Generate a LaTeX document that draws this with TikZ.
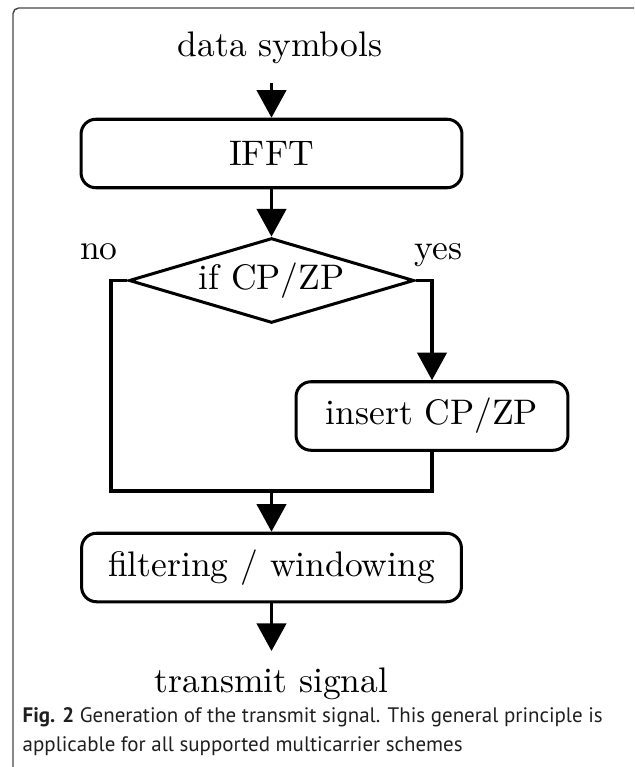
\documentclass[tikz,border=0pt]{standalone}
\usepackage{fontspec}
\newfontfamily\capfont{PT Sans}
\usetikzlibrary{arrows.meta,shapes.geometric}

\begin{document}
\begin{tikzpicture}[
  x=0.2817pt, y=-0.2817pt,
  line join=miter,
  stepbox/.style={draw, line width=0.85pt, rounded corners=4.2pt,
    inner sep=0pt, minimum height=19.3pt, font=\fontsize{10}{12}\selectfont},
  decision/.style={draw, diamond, line width=0.85pt, inner sep=0pt,
    aspect=3.36, minimum width=80.3pt, minimum height=23.9pt,
    font=\fontsize{10}{12}\selectfont},
  lbl/.style={anchor=base, inner sep=0pt, font=\fontsize{10}{12}\selectfont},
  flow/.style={line width=0.85pt},
  arr/.style={flow, -{Triangle[width=8.3pt,length=7.8pt]}},
  capline/.style={anchor=base west, inner sep=0pt, text=black!88,
    font=\capfont\fontsize{5.9}{7.2}\selectfont},
]
\useasboundingbox (0,0) rectangle (634,767);

% caption frame (top and left edges)
\draw[black!72, line width=0.4pt, rounded corners=1.6pt]
  (634,8) -- (13,8) -- (13,767);

% blocks
\node[lbl] (ds) at (280,57) {data symbols};
\coordinate (dsout) at (271.5,83);
\node[stepbox, minimum width=107.3pt] (ifft) at (271.5,153.5) {IFFT};
\node[decision] (dec) at (271.5,280.5) {if CP/ZP};
\node[stepbox, minimum width=76.6pt] (ins) at (432,416) {insert CP/ZP};
\node[stepbox, minimum width=107.0pt] (filt) at (271.5,567.5) {filtering / windowing};
\node[lbl] (ts) at (271.5,692) {transmit signal};
\coordinate (tsin) at (271.5,651);

% branch labels
\node[lbl] (no)  at (99,260)  {no};
\node[lbl] (yes) at (438.5,260) {yes};

% routing points
\coordinate (nl) at (111,280.5);
\coordinate (yr) at (432,280.5);
\coordinate (jl) at (111,491);
\coordinate (jr) at (432,491);
\coordinate (jm) at (271.5,491);

% connectors
\draw[arr] (dsout) -- (ifft.north);
\draw[arr] (ifft.south) -- (dec.north);
\draw[flow] (dec.west) -- (nl) -- (jl) -- (jr) -- (ins.south);
\draw[arr] (dec.east) -- (yr) -- (ins.north);
\draw[arr] (jm) -- (filt.north);
\draw[arr] (filt.south) -- (tsin);

% caption
\node[capline] (cap1) at (22,722)
  {\textbf{Fig. 2} Generation of the transmit signal. This general principle is};
\node[capline] (cap2) at (22,751)
  {applicable for all supported multicarrier schemes};
\end{tikzpicture}
\end{document}
